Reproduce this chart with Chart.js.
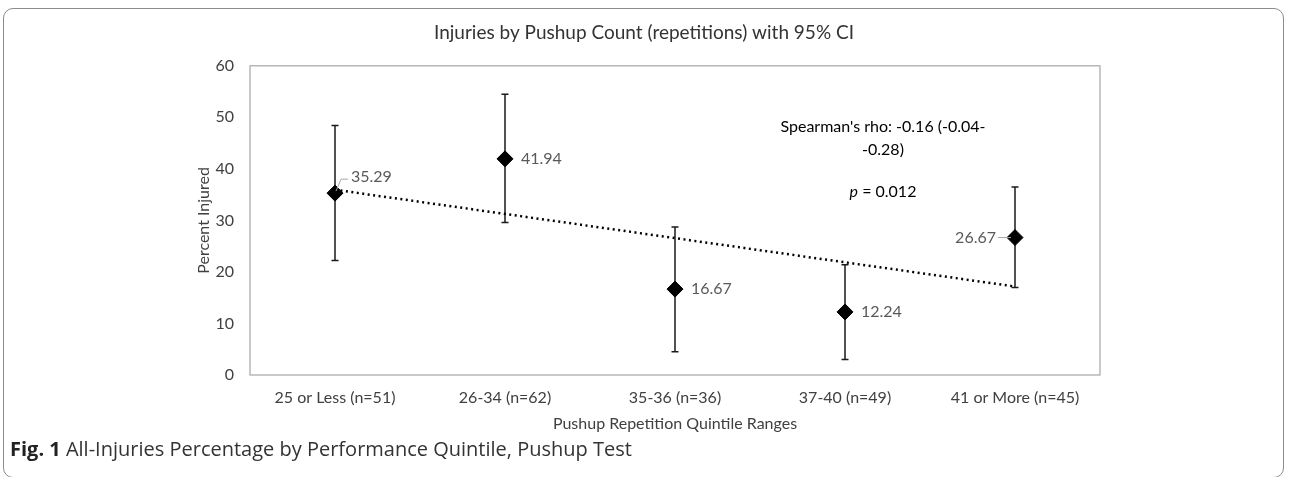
<!DOCTYPE html>
<html>
<head>
<meta charset="utf-8">
<script src="https://cdn.jsdelivr.net/npm/chart.js@4"></script>
<style>
  html, body { margin: 0; padding: 0; background: #fff; }
  #wrap { position: relative; width: 1289px; height: 477px; overflow: hidden; }
  #frame {
    position: absolute; left: 3px; top: 8px; width: 1281px; height: 470px;
    border: 1px solid #8c8c8c; border-radius: 10px; box-sizing: border-box;
  }
  #caption {
    position: absolute; left: 10px; top: 435px; line-height: 28px;
    font-family: "Open Sans", sans-serif; font-size: 20px; color: #333;
  }
  #caption b { font-weight: 700; color: #222; }
  canvas { position: absolute; left: 0; top: 0; }
</style>
</head>
<body>
<div id="wrap">
  <div id="frame"></div>
  <canvas id="injuryChart" width="1289" height="477"></canvas>
  <div id="caption"><b>Fig. 1</b> All-Injuries Percentage by Performance Quintile, Pushup Test</div>
</div>
<script>
const categories = ['25 or Less (n=51)', '26-34 (n=62)', '35-36 (n=36)', '37-40 (n=49)', '41 or More (n=45)'];
const injuredPct = [35.29, 41.94, 16.67, 12.24, 26.67];
const ciLow = [22.2, 29.6, 4.5, 3.0, 17.0];
const ciHigh = [48.4, 54.5, 28.7, 21.4, 36.5];
const trendLine = [35.95, null, null, null, 17.17];
const labelSide = ['up', 'right', 'right', 'right', 'left'];
const yTicks = [0, 10, 20, 30, 40, 50, 60];

const FONT = 'Lato, "Open Sans", sans-serif';

// error bars drawn under the markers, using the chart scales
const errorBars = {
  id: 'errorBars',
  beforeDatasetsDraw(chart) {
    const { ctx, scales: { x, y } } = chart;
    ctx.save();
    ctx.strokeStyle = '#1a1a1a';
    ctx.lineWidth = 1.5;
    injuredPct.forEach((v, i) => {
      const px = x.getPixelForValue(i);
      const top = y.getPixelForValue(ciHigh[i]);
      const bot = y.getPixelForValue(ciLow[i]);
      ctx.beginPath();
      ctx.moveTo(px, top); ctx.lineTo(px, bot);
      ctx.moveTo(px - 3.5, top); ctx.lineTo(px + 3.5, top);
      ctx.moveTo(px - 3.5, bot); ctx.lineTo(px + 3.5, bot);
      ctx.stroke();
    });
    ctx.restore();
  }
};

// value labels and the stats note
const labelsAndNote = {
  id: 'labelsAndNote',
  afterDatasetsDraw(chart) {
    const { ctx, scales: { x, y } } = chart;
    const meta = chart.getDatasetMeta(0);
    ctx.save();
    ctx.font = '16px ' + FONT;
    ctx.fillStyle = '#595959';
    ctx.strokeStyle = '#a6a6a6';
    ctx.lineWidth = 1;
    ctx.textBaseline = 'middle';
    meta.data.forEach((pt, i) => {
      const txt = injuredPct[i].toFixed(2);
      if (labelSide[i] === 'up') {
        ctx.textAlign = 'left';
        ctx.fillText(txt, pt.x + 16, pt.y - 16);
        ctx.beginPath();
        ctx.moveTo(pt.x + 1, pt.y - 2);
        ctx.lineTo(pt.x + 6, pt.y - 14);
        ctx.lineTo(pt.x + 13, pt.y - 14);
        ctx.stroke();
      } else if (labelSide[i] === 'left') {
        ctx.textAlign = 'right';
        ctx.fillText(txt, pt.x - 19, pt.y);
        ctx.beginPath();
        ctx.moveTo(pt.x - 17, pt.y);
        ctx.lineTo(pt.x - 4, pt.y);
        ctx.stroke();
      } else {
        ctx.textAlign = 'left';
        ctx.fillText(txt, pt.x + 16, pt.y);
      }
    });

    // Spearman note
    const nx = x.getPixelForValue(3) + 38;
    ctx.fillStyle = '#000';
    ctx.textAlign = 'center';
    ctx.fillText("Spearman's rho: -0.16 (-0.04-", nx, y.getPixelForValue(48.2));
    ctx.fillText('-0.28)', nx, y.getPixelForValue(43.7));
    const pY = y.getPixelForValue(35.5);
    ctx.font = 'italic 16px ' + FONT;
    const pW = ctx.measureText('p').width;
    ctx.font = '16px ' + FONT;
    const rest = ' = 0.012';
    const rW = ctx.measureText(rest).width;
    const startX = nx - (pW + rW) / 2;
    ctx.textAlign = 'left';
    ctx.font = 'italic 16px ' + FONT;
    ctx.fillText('p', startX, pY);
    ctx.font = '16px ' + FONT;
    ctx.fillText(rest, startX + pW, pY);
    ctx.restore();
  }
};

// grey box around the plot area
const plotBorder = {
  id: 'plotBorder',
  beforeDraw(chart) {
    const { ctx, chartArea: a } = chart;
    ctx.save();
    ctx.strokeStyle = '#a6a6a6';
    ctx.lineWidth = 1.2;
    ctx.strokeRect(a.left, a.top, a.right - a.left, a.bottom - a.top);
    ctx.restore();
  }
};

new Chart(document.getElementById('injuryChart').getContext('2d'), {
  type: 'line',
  data: {
    labels: categories,
    datasets: [
      {
        label: 'Percent Injured',
        data: injuredPct,
        showLine: false,
        pointStyle: 'rectRot',
        pointRadius: 8,
        pointBackgroundColor: '#000',
        pointBorderColor: '#000',
        order: 0
      },
      {
        label: 'Trend',
        data: trendLine,
        spanGaps: true,
        borderColor: '#000',
        borderWidth: 2.5,
        borderDash: [2, 3.5],
        pointRadius: 0,
        order: 1
      }
    ]
  },
  options: {
    responsive: false,
    animation: false,
    layout: { padding: { left: 188, right: 189, top: 21, bottom: 40 } },
    plugins: {
      legend: { display: false },
      tooltip: { enabled: false },
      title: {
        display: true,
        text: 'Injuries by Pushup Count (repetitions) with 95% CI',
        color: '#333',
        font: { family: FONT, size: 19, weight: 'normal' },
        padding: { top: 0, bottom: 22 }
      }
    },
    scales: {
      x: {
        type: 'category',
        offset: true,
        grid: { display: false, drawTicks: false },
        border: { display: false },
        ticks: { color: '#404040', font: { family: FONT, size: 16 }, padding: 13, maxRotation: 0 },
        title: {
          display: true, text: 'Pushup Repetition Quintile Ranges', color: '#404040',
          font: { family: FONT, size: 16 }, padding: { top: 6 }
        },
        afterFit(s) { s.height = 62; }
      },
      y: {
        min: 0, max: 60,
        afterBuildTicks(s) { s.ticks = yTicks.map(v => ({ value: v })); },
        grid: { display: false, drawTicks: false },
        border: { display: false },
        ticks: { color: '#404040', font: { family: FONT, size: 16 }, padding: 16 },
        title: {
          display: true, text: 'Percent Injured', color: '#404040',
          font: { family: FONT, size: 16 }, padding: { top: 6, bottom: 4 }
        },
        afterFit(s) { s.width = 62; }
      }
    }
  },
  plugins: [plotBorder, errorBars, labelsAndNote]
});
</script>
</body>
</html>
